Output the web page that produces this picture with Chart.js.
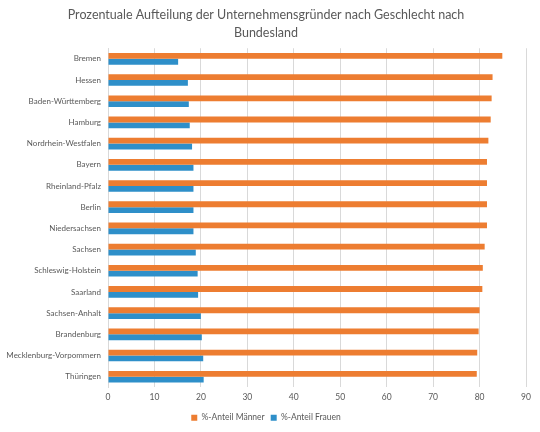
<!DOCTYPE html>
<html><head><meta charset="utf-8">
<script src="https://cdn.jsdelivr.net/npm/chart.js@4"></script>
<style>html,body{margin:0;padding:0;background:#fff}canvas{display:block}</style>
</head><body>
<canvas id="c" width="540" height="432"></canvas>
<script>
const categories = ["Bremen","Hessen","Baden-Württemberg","Hamburg","Nordrhein-Westfalen","Bayern","Rheinland-Pfalz","Berlin","Niedersachsen","Sachsen","Schleswig-Holstein","Saarland","Sachsen-Anhalt","Brandenburg","Mecklenburg-Vorpommern","Thüringen"];
const maenner = [84.9,82.8,82.6,82.4,81.9,81.6,81.6,81.6,81.6,81.1,80.7,80.6,80.0,79.8,79.5,79.4];
const frauen  = [15.1,17.2,17.4,17.6,18.1,18.4,18.4,18.4,18.4,18.9,19.3,19.4,20.0,20.2,20.5,20.6];
const seriesNames = ["%-Anteil Männer","%-Anteil Frauen"];
const titleLines = ["Prozentuale Aufteilung der Unternehmensgründer nach Geschlecht nach","Bundesland"];

const FONT = "Lato, 'Open Sans', sans-serif";
new Chart(document.getElementById('c'), {
  type: 'bar',
  data: {
    labels: categories,
    datasets: [
      {label: seriesNames[0], data: maenner, backgroundColor: '#ED7D31', categoryPercentage: 0.55, barPercentage: 1.0},
      {label: seriesNames[1], data: frauen, backgroundColor: '#2E8FC9', categoryPercentage: 0.55, barPercentage: 1.0}
    ]
  },
  options: {
    indexAxis: 'y',
    responsive: false,
    animation: false,
    devicePixelRatio: 1,
    layout: {padding: {left: 6, right: 14, top: 2, bottom: 0}},
    plugins: {
      title: {display: true, text: titleLines, color: '#595959', font: {family: FONT, size: 12.5, weight: 'normal', lineHeight: 1.45}, padding: {top: 4, bottom: 6}},
      legend: {position: 'bottom', labels: {color: '#595959', font: {family: FONT, size: 8.5}, boxWidth: 6, boxHeight: 6, padding: 6}},
      tooltip: {enabled: false}
    },
    scales: {
      x: {
        min: 0, max: 90,
        ticks: {stepSize: 10, color: '#595959', font: {family: FONT, size: 8.5}, padding: 5},
        grid: {color: '#D9D9D9', drawTicks: false},
        border: {display: false}
      },
      y: {
        ticks: {color: '#595959', font: {family: FONT, size: 8}, padding: 7},
        grid: {display: false, drawTicks: false},
        border: {display: true, color: '#D9D9D9'},
        afterFit: (s) => { s.width = 102; }
      }
    }
  }
});
</script>
</body></html>
